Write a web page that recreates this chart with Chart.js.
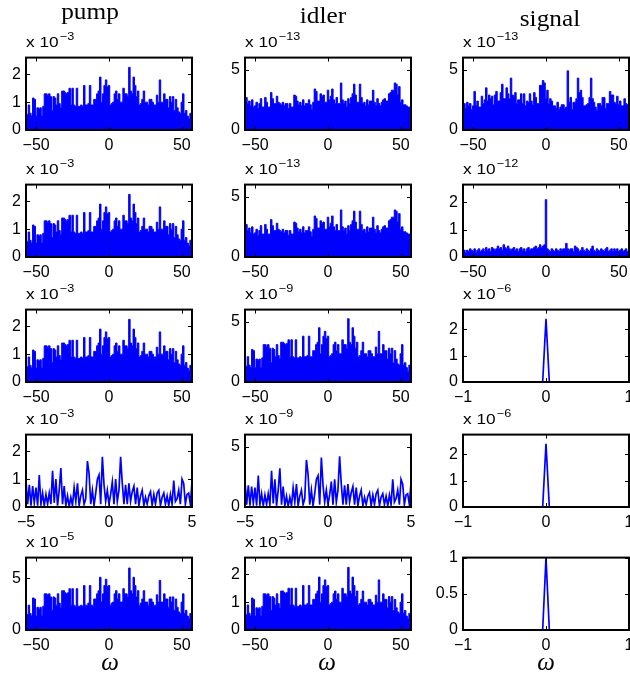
<!DOCTYPE html>
<html>
<head>
<meta charset="utf-8">
<script src="https://cdn.jsdelivr.net/npm/chart.js@4.4.1/dist/chart.umd.min.js"></script>
<style>
  html,body{margin:0;padding:0;background:#fff;}
  body{width:630px;height:679px;position:relative;overflow:hidden;}
  canvas{position:absolute;}
  .ttl{position:absolute;width:120px;text-align:center;font-family:"Liberation Serif","DejaVu Serif",serif;font-size:23px;line-height:22px;color:#000;transform:scaleX(1.1);}
  .om{position:absolute;width:60px;text-align:center;font-family:"Liberation Serif","DejaVu Serif",serif;font-style:italic;font-size:25px;line-height:24px;color:#000;}
  .exp{position:absolute;font-family:"Liberation Sans",Arial,sans-serif;font-size:15px;line-height:16px;color:#000;white-space:nowrap;transform:scaleX(1.15);transform-origin:0 0;}
  .exp span{font-size:11px;position:relative;top:-7px;margin-left:1px;}
</style>
</head>
<body>
<script>
// ---------- DATA ----------
const omegaWide = [-57,-56,-55,-54,-53,-52,-51,-50,-49,-48,-47,-46,-45,-44,-43,-42,-41,-40,-39,-38,-37,-36,-35,-34,-33,-32,-31,-30,-29,-28,-27,-26,-25,-24,-23,-22,-21,-20,-19,-18,-17,-16,-15,-14,-13,-12,-11,-10,-9,-8,-7,-6,-5,-4,-3,-2,-1,0,1,2,3,4,5,6,7,8,9,10,11,12,13,14,15,16,17,18,19,20,21,22,23,24,25,26,27,28,29,30,31,32,33,34,35,36,37,38,39,40,41,42,43,44,45,46,47,48,49,50,51,52,53,54,55,56,57];
const omegaNarrow = [-5,-4.9,-4.8,-4.7,-4.6,-4.5,-4.4,-4.3,-4.2,-4.1,-4,-3.9,-3.8,-3.7,-3.6,-3.5,-3.4,-3.3,-3.2,-3.1,-3,-2.9,-2.8,-2.7,-2.6,-2.5,-2.4,-2.3,-2.2,-2.1,-2,-1.9,-1.8,-1.7,-1.6,-1.5,-1.4,-1.3,-1.2,-1.1,-1,-0.9,-0.8,-0.7,-0.6,-0.5,-0.4,-0.3,-0.2,-0.1,0,0.1,0.2,0.3,0.4,0.5,0.6,0.7,0.8,0.9,1,1.1,1.2,1.3,1.4,1.5,1.6,1.7,1.8,1.9,2,2.1,2.2,2.3,2.4,2.5,2.6,2.7,2.8,2.9,3,3.1,3.2,3.3,3.4,3.5,3.6,3.7,3.8,3.9,4,4.1,4.2,4.3,4.4,4.5,4.6,4.7,4.8,4.9,5];
const omegaUnit = [-1,-0.04,0,0.04,1];

const ticksWide = [-50,0,50];
const ticksNarrow = [-5,0,5];
const ticksUnit = [-1,0,1];

// pump (x10^-3), rows 1-3, same as idler row 5
const pump = [0.6,0.55,0.9,0.6,0.5,1.15,1.1,0.5,0.8,0.75,
 0.8,0.5,0.85,1.3,1.3,1.25,1.3,1.2,0.7,1.2,
 1.15,0.9,1.3,0.95,0.8,1.4,1.4,1.35,1.3,1.35,
 1.5,0.9,1.5,0.9,0.85,1.5,0.85,0.85,0.9,0.85,
 1.6,0.9,0.9,0.95,1.6,0.9,0.9,1.1,1.1,1.3,
 1.4,1.9,1.0,1.3,1.6,1.8,1.55,1.6,0.9,0.95,
 1.0,1.3,1.4,1.1,1.3,1.0,1.0,1.5,1.3,1.3,
 1.2,2.25,1.4,1.3,1.9,1.6,1.2,1.4,0.9,0.95,
 1.1,1.4,1.0,1.0,0.9,1.1,1.1,1.0,0.9,0.9,
 1.25,1.0,1.8,1.0,1.0,1.3,1.1,1.1,0.8,1.2,
 1.0,1.2,0.7,1.1,0.8,0.65,0.6,1.0,1.3,0.6,
 0.7,0.5,0.4,0.6,0.6];

// idler rows 1-2 (x10^-13)
const idler1 = [2.7,2.7,2.2,2.4,2.0,2.5,1.9,2.0,2.3,1.8,
 2.2,2.6,1.9,1.9,2.7,2.3,1.9,1.9,3.1,2.6,
 2.2,2.2,2.8,2.3,2.2,2.1,2.3,2.0,2.2,2.2,
 1.8,2.2,1.9,1.9,2.9,2.8,2.4,2.1,2.3,2.0,
 2.5,2.0,2.2,2.2,2.5,2.1,1.7,2.3,3.4,3.2,
 2.4,2.4,3.0,2.8,2.9,2.3,2.3,3.3,2.5,2.8,
 3.4,2.5,2.2,2.7,2.2,2.2,3.9,2.5,2.2,2.4,
 1.9,2.6,2.2,2.7,3.0,3.8,2.9,2.3,2.3,3.8,
 2.7,2.2,2.3,2.0,2.5,2.1,2.4,2.4,3.3,2.3,
 2.0,2.6,2.2,2.0,2.3,2.5,2.6,2.4,2.4,3.0,
 3.1,3.3,3.3,3.9,3.8,2.9,3.6,2.3,2.5,2.1,
 2.1,2.0,1.9,1.9,1.7];

// signal row 1 (x10^-13)
const signal1 = [2.2,2.2,1.8,2.3,2.0,2.2,1.7,2.0,3.2,2.0,
 2.4,1.9,1.9,2.8,2.2,2.5,3.5,2.4,2.9,2.6,
 2.8,2.1,2.9,3.2,2.4,2.4,3.1,3.8,2.6,2.6,
 3.5,3.0,2.6,4.3,2.9,2.8,3.1,2.2,2.5,2.5,
 3.0,2.2,3.0,2.0,2.4,2.3,3.0,2.4,2.1,3.1,
 2.7,2.2,2.2,3.7,3.7,4.1,3.9,2.6,3.3,2.2,
 2.6,2.4,2.0,2.0,1.8,2.3,1.7,1.9,2.1,2.1,
 1.8,1.9,4.9,2.3,2.7,1.7,2.3,2.3,2.6,4.3,
 3.1,3.3,2.7,2.0,2.0,2.1,2.2,2.7,4.3,2.6,
 2.3,1.9,1.6,2.2,2.2,2.0,2.7,2.7,1.8,2.2,
 2.2,3.2,2.9,2.9,2.3,2.2,2.8,2.1,2.4,2.0,
 2.0,2.6,2.2,2.1,1.9];

// signal row 2 (x10^-12)
const signal2 = [0.2,0.25,0.15,0.25,0.2,0.3,0.25,0.2,0.3,0.15,
 0.25,0.3,0.2,0.25,0.3,0.2,0.35,0.25,0.3,0.2,
 0.35,0.3,0.25,0.3,0.4,0.3,0.35,0.25,0.45,0.35,
 0.3,0.4,0.3,0.25,0.3,0.35,0.25,0.3,0.2,0.3,
 0.35,0.25,0.3,0.2,0.3,0.35,0.25,0.3,0.3,0.35,
 0.4,0.3,0.35,0.45,0.35,0.4,0.45,2.1,0.3,0.25,
 0.2,0.3,0.25,0.2,0.3,0.25,0.2,0.3,0.25,0.3,
 0.3,0.5,0.3,0.25,0.3,0.3,0.2,0.4,0.35,0.3,
 0.2,0.25,0.35,0.25,0.2,0.3,0.25,0.2,0.3,0.4,
 0.25,0.2,0.3,0.25,0.2,0.3,0.25,0.2,0.3,0.35,
 0.2,0.25,0.3,0.2,0.3,0.25,0.3,0.2,0.25,0.3,
 0.2,0.25,0.3,0.2,0.25];

// idler row 3 (x10^-9)
const idler3 = [1.4,1.3,2.1,1.4,1.2,2.7,2.6,1.2,1.9,1.8,
 1.9,1.2,2.0,3.1,3.1,2.9,3.1,2.8,1.6,2.8,
 2.7,2.1,3.1,2.2,1.9,3.3,3.3,3.2,3.1,3.2,
 3.5,2.1,3.5,2.1,2.0,3.5,2.0,2.0,2.1,2.0,
 3.8,2.1,2.1,2.2,3.8,2.1,2.1,2.6,2.6,3.1,
 3.3,4.5,2.35,3.1,3.8,4.2,3.6,3.8,2.1,2.2,
 2.35,3.1,3.3,2.6,3.1,2.35,2.35,3.5,3.1,3.1,
 2.8,5.25,3.3,3.1,4.5,3.8,2.8,3.3,2.1,2.2,
 2.6,3.3,2.35,2.35,2.1,2.6,2.6,2.35,2.1,2.1,
 2.9,2.35,4.2,2.35,2.35,3.1,2.6,2.6,1.9,2.8,
 2.35,2.8,1.6,2.6,1.9,1.5,1.4,2.35,3.1,1.4,
 1.6,1.2,0.9,1.4,1.4];

// pump row 4 (x10^-3), omega -5..5
const pump4 = [0.95,0.1,0.8,0.05,0.75,0.15,0.7,0.05,1.15,0.1,
 0.5,0.05,0.45,0.1,0.5,0.1,1.3,0.15,1.0,0.05,
 0.6,1.4,0.1,0.75,0.05,0.4,0.02,0.35,0.05,0.7,
 0.2,0.85,0.05,0.4,0.6,0.1,0.3,1.65,1.2,0.1,
 0.6,0.05,0.5,1.0,1.15,0.1,1.8,0.8,0.2,0.6,
 0.1,0.45,0.9,0.1,1.0,0.2,0.6,1.8,0.85,0.1,
 0.8,0.1,0.85,0.2,0.55,0.75,0.1,0.7,0.05,0.4,
 0.6,0.05,0.35,0.1,0.4,0.55,0.05,0.45,0.1,0.5,
 0.6,0.05,0.35,0.5,0.1,0.4,0.05,0.45,0.1,0.95,
 0.2,0.3,0.6,0.1,1.0,0.85,0.1,0.45,0.5,0.1,
 0.9];

// idler row 4 (x10^-9), omega -5..5
const idler4 = [2.1,0.2,1.8,0.1,1.7,0.3,1.6,0.1,2.6,0.2,
 1.1,0.1,1.0,0.2,1.1,0.2,3.0,0.3,2.3,0.1,
 1.4,3.2,0.2,1.7,0.1,0.9,0.05,0.8,0.1,1.6,
 0.4,1.9,0.1,0.9,1.4,0.2,0.7,3.9,2.7,0.2,
 1.4,0.1,1.1,2.3,2.6,0.2,4.1,1.8,0.4,1.4,
 0.2,1.0,2.1,0.2,2.3,0.4,1.4,4.2,1.9,0.2,
 1.8,0.2,1.9,0.4,1.2,1.7,0.2,1.6,0.1,0.9,
 1.4,0.1,0.8,0.2,0.9,1.2,0.1,1.0,0.2,1.1,
 1.4,0.1,0.8,1.1,0.2,0.9,0.1,1.0,0.2,2.3,
 0.4,0.7,1.4,0.2,2.3,1.9,0.2,1.0,1.1,0.2,
 2.0];

// pump row 5 (x10^-5)
const pump5 = [1.6,1.5,2.4,1.6,1.35,3.1,3.0,1.35,2.2,2.0,
 2.2,1.35,2.3,3.5,3.5,3.4,3.5,3.2,1.9,3.2,
 3.1,2.4,3.5,2.6,2.2,3.8,3.8,3.6,3.5,3.6,
 4.0,2.4,4.0,2.4,2.3,4.0,2.3,2.3,2.4,2.3,
 4.3,2.4,2.4,2.6,4.3,2.4,2.4,3.0,3.0,3.5,
 3.8,5.1,2.7,3.5,4.3,4.9,4.2,4.3,2.4,2.6,
 2.7,3.5,3.8,3.0,3.5,2.7,2.7,4.0,3.5,3.5,
 3.2,6.0,3.8,3.5,5.1,4.3,3.2,3.8,2.4,2.6,
 3.0,3.8,2.7,2.7,2.4,3.0,3.0,2.7,2.4,2.4,
 3.4,2.7,4.8,2.7,2.7,3.5,3.0,3.0,2.2,3.2,
 2.7,3.2,1.9,3.0,2.2,1.75,1.6,2.7,3.5,1.6,
 1.9,1.35,1.1,1.6,1.6];

// signal rows 3-5, omega -1..1
const signal3 = [0,0,2.4,0,0];
const signal4 = [0,0,2.4,0,0];
const signal5 = [0,0,1,0,0];

// ---------- LAYOUT ----------
const colLeft = [26, 245, 463];
const rowTop = [53, 180, 305, 430, 553];
const PW = 166, PH = 77;
const YW = 36, PT = 10, PR = 16, XH = 26;
const BLUE = '#0000ff';

const panels = [
  {r:0,c:0,x:omegaWide,y:pump,fill:true,xr:[-57,57],ymax:2.6,xt:ticksWide,yt:[0,1,2],exp:'\u22123'},
  {r:0,c:1,x:omegaWide,y:idler1,fill:true,xr:[-57,57],ymax:6,xt:ticksWide,yt:[0,5],exp:'\u221213'},
  {r:0,c:2,x:omegaWide,y:signal1,fill:true,xr:[-57,57],ymax:6,xt:ticksWide,yt:[0,5],exp:'\u221213'},
  {r:1,c:0,x:omegaWide,y:pump,fill:true,xr:[-57,57],ymax:2.6,xt:ticksWide,yt:[0,1,2],exp:'\u22123'},
  {r:1,c:1,x:omegaWide,y:idler1,fill:true,xr:[-57,57],ymax:6,xt:ticksWide,yt:[0,5],exp:'\u221213'},
  {r:1,c:2,x:omegaWide,y:signal2,fill:true,xr:[-57,57],ymax:2.65,xt:ticksWide,yt:[0,1,2],exp:'\u221212'},
  {r:2,c:0,x:omegaWide,y:pump,fill:true,xr:[-57,57],ymax:2.6,xt:ticksWide,yt:[0,1,2],exp:'\u22123'},
  {r:2,c:1,x:omegaWide,y:idler3,fill:true,xr:[-57,57],ymax:6,xt:ticksWide,yt:[0,5],exp:'\u22129'},
  {r:2,c:2,x:omegaUnit,y:signal3,fill:false,xr:[-1,1],ymax:2.75,xt:ticksUnit,yt:[0,1,2],exp:'\u22126'},
  {r:3,c:0,x:omegaNarrow,y:pump4,fill:false,xr:[-5,5],ymax:2.6,xt:ticksNarrow,yt:[0,1,2],exp:'\u22123'},
  {r:3,c:1,x:omegaNarrow,y:idler4,fill:false,xr:[-5,5],ymax:6,xt:ticksNarrow,yt:[0,5],exp:'\u22129'},
  {r:3,c:2,x:omegaUnit,y:signal4,fill:false,xr:[-1,1],ymax:2.75,xt:ticksUnit,yt:[0,1,2],exp:'\u22126'},
  {r:4,c:0,x:omegaWide,y:pump5,fill:true,xr:[-57,57],ymax:7,xt:ticksWide,yt:[0,5],exp:'\u22125'},
  {r:4,c:1,x:omegaWide,y:pump,fill:true,xr:[-57,57],ymax:2.6,xt:ticksWide,yt:[0,1,2],exp:'\u22123'},
  {r:4,c:2,x:omegaUnit,y:signal5,fill:false,xr:[-1,1],ymax:1,xt:ticksUnit,yt:[0,0.5,1],exp:null}
];

const fmt = v => (v < 0 ? '\u2212' + Math.abs(v) : String(v));

const boxPlugin = {
  id: 'box',
  afterDraw(chart) {
    const {ctx, chartArea: a, scales} = chart;
    ctx.save();
    ctx.strokeStyle = '#000';
    ctx.lineWidth = 1;
    const L = 4;
    scales.x.ticks.forEach(t => {
      const px = Math.round(scales.x.getPixelForValue(t.value)) + 0.5;
      ctx.beginPath();
      ctx.moveTo(px, a.bottom); ctx.lineTo(px, a.bottom - L);
      ctx.moveTo(px, a.top); ctx.lineTo(px, a.top + L);
      ctx.stroke();
    });
    scales.y.ticks.forEach(t => {
      const py = Math.round(scales.y.getPixelForValue(t.value)) + 0.5;
      ctx.beginPath();
      ctx.moveTo(a.left, py); ctx.lineTo(a.left + L, py);
      ctx.moveTo(a.right, py); ctx.lineTo(a.right - L, py);
      ctx.stroke();
    });
    ctx.lineWidth = 2;
    ctx.strokeRect(a.left, a.top, a.right - a.left, a.bottom - a.top);
    ctx.restore();
  }
};

const tickFont = {family: '"Liberation Sans", Arial, sans-serif', size: 16};

panels.forEach(p => {
  const left = colLeft[p.c], top = rowTop[p.r];
  const cv = document.createElement('canvas');
  const W = YW + PW + PR, H = PT + PH + XH;
  cv.width = W; cv.height = H;
  cv.style.width = W + 'px'; cv.style.height = H + 'px';
  cv.style.left = (left - YW) + 'px';
  cv.style.top = (top - PT) + 'px';
  document.body.appendChild(cv);

  new Chart(cv, {
    type: 'line',
    data: {
      datasets: [{
        data: p.x.map((xv, i) => ({x: xv, y: p.y[i]})),
        borderColor: BLUE,
        backgroundColor: BLUE,
        fill: p.fill ? 'origin' : false,
        stepped: p.fill ? 'middle' : false,
        borderWidth: p.fill ? 1 : 1.7,
        pointRadius: 0,
        tension: 0
      }]
    },
    options: {
      responsive: false,
      animation: false,
      events: [],
      layout: {padding: {top: PT, right: PR, left: 0, bottom: 0}},
      plugins: {legend: {display: false}, tooltip: {enabled: false}},
      scales: {
        x: {
          type: 'linear', min: p.xr[0], max: p.xr[1],
          afterBuildTicks: s => { s.ticks = p.xt.map(v => ({value: v})); },
          afterFit: s => { s.height = XH; },
          grid: {display: false, drawTicks: false},
          border: {display: false},
          ticks: {font: tickFont, color: '#000', padding: 6, maxRotation: 0, autoSkip: false, callback: v => fmt(v)}
        },
        y: {
          type: 'linear', min: 0, max: p.ymax,
          afterBuildTicks: s => { s.ticks = p.yt.map(v => ({value: v})); },
          afterFit: s => { s.width = YW; },
          grid: {display: false, drawTicks: false},
          border: {display: false},
          ticks: {font: tickFont, color: '#000', padding: 5, callback: v => fmt(v)}
        }
      }
    },
    plugins: [boxPlugin]
  });

  if (p.exp) {
    const d = document.createElement('div');
    d.className = 'exp';
    d.style.left = left + 'px';
    d.style.top = (top - 19) + 'px';
    d.innerHTML = 'x 10<span>' + p.exp + '</span>';
    document.body.appendChild(d);
  }
});

// titles and axis labels
const titles = [['pump', 90, 1], ['idler', 323, 5], ['signal', 550, 8]];
titles.forEach(([t, cx, ty]) => {
  const d = document.createElement('div');
  d.className = 'ttl';
  d.style.left = (cx - 60) + 'px';
  d.style.top = ty + 'px';
  d.textContent = t;
  document.body.appendChild(d);
});
[110, 327, 546].forEach(cx => {
  const d = document.createElement('div');
  d.className = 'om';
  d.style.left = (cx - 30) + 'px';
  d.style.top = '650px';
  d.textContent = '\u03c9';
  document.body.appendChild(d);
});
</script>
</body>
</html>
